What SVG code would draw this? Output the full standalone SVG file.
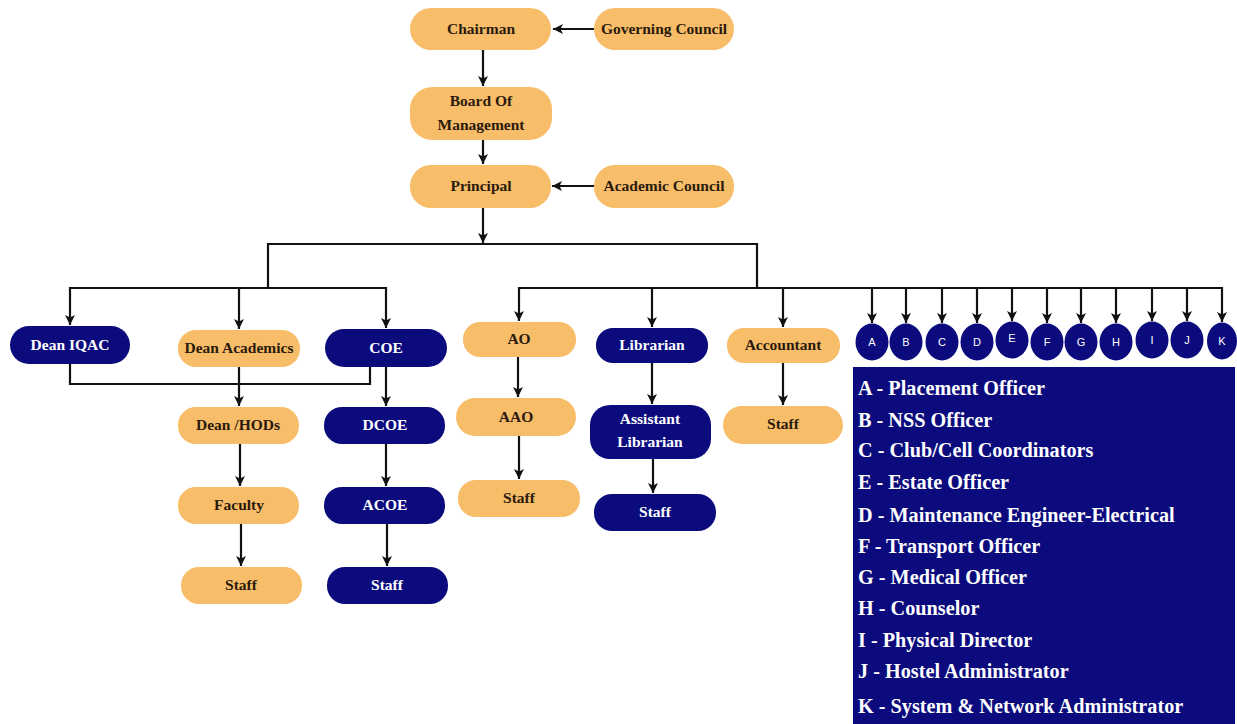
<svg xmlns="http://www.w3.org/2000/svg" width="1237" height="724" viewBox="0 0 1237 724">
<style>
.o{fill:#f8bd68}
.n{fill:#0b0b7d}
.t{font-family:"Liberation Serif","Times New Roman",serif;font-weight:bold;font-size:15.5px;text-anchor:middle}
.to{fill:#2a1a0e}
.tn{fill:#ffffff}
.c{fill:none;stroke:#111;stroke-width:2.2}
.a{marker-end:url(#ah)}
.lg{font-family:"Liberation Serif","Times New Roman",serif;font-weight:bold;font-size:22px;fill:#ffffff}
.cl{font-family:"Liberation Sans",Arial,sans-serif;font-size:11px;fill:#ffffff;text-anchor:middle}
</style>
<defs>
<marker id="ah" viewBox="0 0 10 10" refX="10" refY="5" markerWidth="10" markerHeight="10" markerUnits="userSpaceOnUse" orient="auto">
<path d="M0,0 L10,5 L0,10 L2.5,5 z" fill="#111"/>
</marker>
</defs>
<rect width="1237" height="724" fill="#ffffff"/>

<g id="connectors">
<line class="c a" x1="594" y1="29" x2="553" y2="29"/>
<line class="c a" x1="483" y1="50" x2="483" y2="86"/>
<line class="c a" x1="483" y1="140" x2="483" y2="164"/>
<line class="c a" x1="594" y1="186" x2="552" y2="186"/>
<line class="c a" x1="483" y1="208" x2="483" y2="243"/>
<polyline class="c" points="268,288 268,244 757,244 757,288"/>
<line class="c" x1="70" y1="288" x2="386" y2="288"/>
<line class="c a" x1="70" y1="287" x2="70" y2="325"/>
<line class="c a" x1="239" y1="288" x2="239" y2="329"/>
<line class="c a" x1="386" y1="287" x2="386" y2="328"/>
<polyline class="c" points="70,364 70,384 370,384 370,367"/>
<line class="c a" x1="239" y1="367" x2="239" y2="406"/>
<line class="c a" x1="386" y1="367" x2="386" y2="406"/>
<line class="c a" x1="240" y1="444" x2="240" y2="486"/>
<line class="c a" x1="241" y1="524" x2="241" y2="566"/>
<line class="c a" x1="386" y1="444" x2="386" y2="486"/>
<line class="c a" x1="387" y1="524" x2="387" y2="566"/>
<line class="c" x1="519" y1="288" x2="1223" y2="288"/>
<line class="c a" x1="519" y1="287" x2="519" y2="321"/>
<line class="c a" x1="652" y1="288" x2="652" y2="327"/>
<line class="c a" x1="783" y1="288" x2="783" y2="327"/>
<line class="c a" x1="518" y1="357" x2="518" y2="397"/>
<line class="c a" x1="519" y1="436" x2="519" y2="479"/>
<line class="c a" x1="652" y1="363" x2="652" y2="404"/>
<line class="c a" x1="653" y1="459" x2="653" y2="493"/>
<line class="c a" x1="783" y1="363" x2="783" y2="405"/>
<line class="c a" x1="872" y1="288" x2="872" y2="323"/>
<line class="c a" x1="906" y1="288" x2="906" y2="323"/>
<line class="c a" x1="942" y1="288" x2="942" y2="323"/>
<line class="c a" x1="977" y1="288" x2="977" y2="323"/>
<line class="c a" x1="1012" y1="288" x2="1012" y2="321"/>
<line class="c a" x1="1047" y1="288" x2="1047" y2="323"/>
<line class="c a" x1="1081" y1="288" x2="1081" y2="323"/>
<line class="c a" x1="1116" y1="288" x2="1116" y2="323"/>
<line class="c a" x1="1152" y1="288" x2="1152" y2="321"/>
<line class="c a" x1="1187" y1="288" x2="1187" y2="321"/>
<line class="c a" x1="1222" y1="287" x2="1222" y2="322"/>
</g>

<g id="chairman"><rect class="o" x="410" y="8" width="141" height="42" rx="21"/><text class="t to" x="481" y="34">Chairman</text></g>
<g id="governing-council"><rect class="o" x="594" y="8" width="140" height="42" rx="21"/><text class="t to" x="664" y="34">Governing Council</text></g>
<g id="board"><rect class="o" x="410" y="87" width="142" height="53" rx="22"/><text class="t to" x="481" y="106">Board Of</text><text class="t to" x="481" y="130">Management</text></g>
<g id="principal"><rect class="o" x="410" y="165" width="141" height="43" rx="21"/><text class="t to" x="481" y="191">Principal</text></g>
<g id="academic-council"><rect class="o" x="594" y="165" width="140" height="43" rx="21"/><text class="t to" x="664" y="191">Academic Council</text></g>

<g id="dean-iqac"><rect class="n" x="10" y="326" width="120" height="38" rx="19"/><text class="t tn" x="70" y="350">Dean IQAC</text></g>
<g id="dean-academics"><rect class="o" x="178" y="330" width="122" height="37" rx="18"/><text class="t to" x="239" y="353">Dean Academics</text></g>
<g id="coe"><rect class="n" x="325" y="329" width="122" height="38" rx="19"/><text class="t tn" x="386" y="353">COE</text></g>
<g id="dean-hods"><rect class="o" x="178" y="407" width="121" height="37" rx="18"/><text class="t to" x="238" y="430">Dean /HODs</text></g>
<g id="dcoe"><rect class="n" x="324" y="407" width="121" height="37" rx="18"/><text class="t tn" x="385" y="430">DCOE</text></g>
<g id="faculty"><rect class="o" x="178" y="487" width="121" height="37" rx="18"/><text class="t to" x="239" y="510">Faculty</text></g>
<g id="acoe"><rect class="n" x="324" y="487" width="121" height="37" rx="18"/><text class="t tn" x="385" y="510">ACOE</text></g>
<g id="staff-faculty"><rect class="o" x="181" y="567" width="121" height="37" rx="18"/><text class="t to" x="241" y="590">Staff</text></g>
<g id="staff-coe"><rect class="n" x="327" y="567" width="121" height="37" rx="18"/><text class="t tn" x="387" y="590">Staff</text></g>

<g id="ao"><rect class="o" x="463" y="322" width="113" height="35" rx="17"/><text class="t to" x="519" y="344">AO</text></g>
<g id="aao"><rect class="o" x="456" y="398" width="120" height="38" rx="19"/><text class="t to" x="516" y="422">AAO</text></g>
<g id="staff-ao"><rect class="o" x="458" y="480" width="122" height="37" rx="18"/><text class="t to" x="519" y="503">Staff</text></g>
<g id="librarian"><rect class="n" x="596" y="328" width="112" height="35" rx="17"/><text class="t tn" x="652" y="350">Librarian</text></g>
<g id="assistant-librarian"><rect class="n" x="590" y="405" width="121" height="54" rx="20"/><text class="t tn" x="650" y="424">Assistant</text><text class="t tn" x="650" y="447">Librarian</text></g>
<g id="staff-librarian"><rect class="n" x="594" y="494" width="122" height="37" rx="18"/><text class="t tn" x="655" y="517">Staff</text></g>
<g id="accountant"><rect class="o" x="727" y="328" width="113" height="35" rx="17"/><text class="t to" x="783" y="350">Accountant</text></g>
<g id="staff-accountant"><rect class="o" x="723" y="406" width="120" height="38" rx="19"/><text class="t to" x="783" y="429">Staff</text></g>

<g id="circle-a"><ellipse class="n" cx="872" cy="342" rx="16.5" ry="18.5"/><text class="cl" x="872" y="346">A</text></g>
<g id="circle-b"><ellipse class="n" cx="906" cy="342" rx="16.5" ry="18.5"/><text class="cl" x="906" y="346">B</text></g>
<g id="circle-c"><ellipse class="n" cx="942" cy="342" rx="16.5" ry="18.5"/><text class="cl" x="942" y="346">C</text></g>
<g id="circle-d"><ellipse class="n" cx="977" cy="342" rx="16.5" ry="18.5"/><text class="cl" x="977" y="346">D</text></g>
<g id="circle-e"><ellipse class="n" cx="1012" cy="340" rx="16.5" ry="18.5"/><text class="cl" x="1012" y="342">E</text></g>
<g id="circle-f"><ellipse class="n" cx="1047" cy="342" rx="16.5" ry="18.5"/><text class="cl" x="1047" y="346">F</text></g>
<g id="circle-g"><ellipse class="n" cx="1081" cy="342" rx="16.5" ry="18.5"/><text class="cl" x="1081" y="346">G</text></g>
<g id="circle-h"><ellipse class="n" cx="1116" cy="342" rx="16.5" ry="18.5"/><text class="cl" x="1116" y="346">H</text></g>
<g id="circle-i"><ellipse class="n" cx="1152" cy="340" rx="16.5" ry="18.5"/><text class="cl" x="1152" y="344">I</text></g>
<g id="circle-j"><ellipse class="n" cx="1187" cy="340" rx="16.5" ry="18.5"/><text class="cl" x="1187" y="344">J</text></g>
<g id="circle-k"><ellipse class="n" cx="1222" cy="341" rx="15" ry="18.5"/><text class="cl" x="1222" y="345">K</text></g>

<g id="legend">
<rect class="n" x="853" y="367" width="382" height="357"/>
<g transform="translate(858,0) scale(0.92,1)">
<text class="lg" x="0" y="395">A - Placement Officer</text>
<text class="lg" x="0" y="427">B - NSS Officer</text>
<text class="lg" x="0" y="457">C - Club/Cell Coordinators</text>
<text class="lg" x="0" y="489">E - Estate Officer</text>
<text class="lg" x="0" y="522">D - Maintenance Engineer-Electrical</text>
<text class="lg" x="0" y="553">F - Transport Officer</text>
<text class="lg" x="0" y="584">G - Medical Officer</text>
<text class="lg" x="0" y="615">H - Counselor</text>
<text class="lg" x="0" y="647">I - Physical Director</text>
<text class="lg" x="0" y="678">J - Hostel Administrator</text>
<text class="lg" x="0" y="713">K - System &amp; Network Administrator</text>
</g>
</g>
</svg>
